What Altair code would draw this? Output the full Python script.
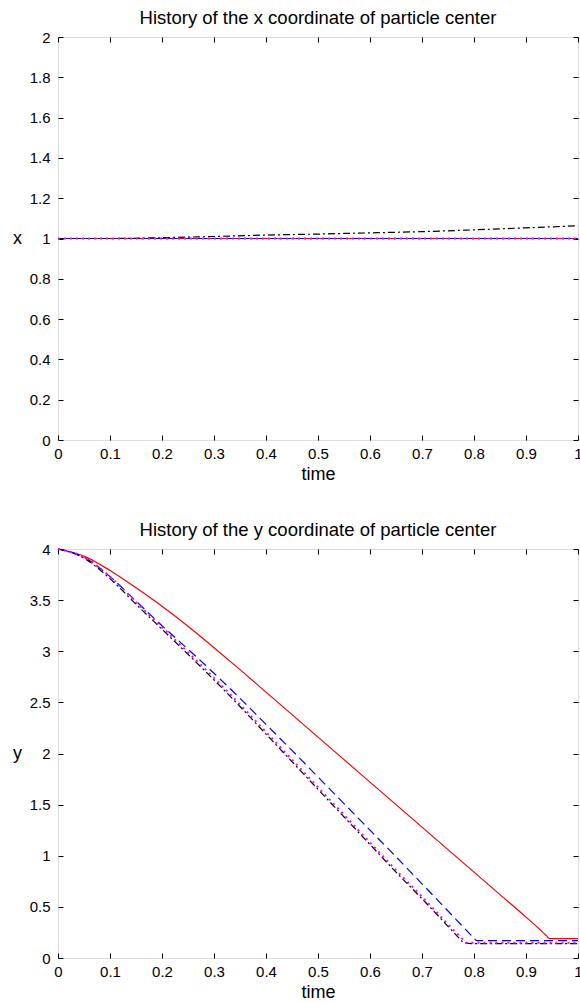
import altair as alt
import pandas as pd

# ---------------- data ----------------
time_x_black = [0.0, 0.1, 0.2, 0.3, 0.4, 0.5, 0.6, 0.7, 0.8, 0.9, 1.0]
x_black = [1.0, 1.0, 1.004, 1.01, 1.017, 1.022, 1.028, 1.034, 1.043, 1.053, 1.063]
time_x_flat = [0.0, 1.0]
x_red = [1.0, 1.0]
x_blue = [1.0, 1.0]
x_magenta = [1.0, 1.0]

time_y_red = [0.0, 0.05, 0.1, 0.15, 0.2, 0.25, 0.3, 0.35, 0.4, 0.45, 0.5, 0.55,
              0.6, 0.65, 0.7, 0.75, 0.8, 0.85, 0.9, 0.94, 0.945, 1.0]
y_red = [4.0, 3.93, 3.79, 3.62, 3.44, 3.245, 3.035, 2.82, 2.60, 2.38, 2.16, 1.94,
         1.72, 1.50, 1.28, 1.06, 0.84, 0.62, 0.40, 0.215, 0.19, 0.19]

time_y_blue = [0.0, 0.05, 0.1, 0.15, 0.2, 0.25, 0.3, 0.35, 0.4, 0.45, 0.5, 0.55,
               0.6, 0.65, 0.7, 0.75, 0.8, 0.805, 0.9, 1.0]
y_blue = [4.0, 3.92, 3.73, 3.49, 3.25, 3.02, 2.785, 2.54, 2.285, 2.03, 1.77, 1.51,
          1.25, 0.99, 0.725, 0.46, 0.195, 0.17, 0.17, 0.17]

time_y_black = [0.0, 0.05, 0.1, 0.15, 0.2, 0.25, 0.3, 0.35, 0.4, 0.45, 0.5, 0.55,
                0.6, 0.65, 0.7, 0.75, 0.775, 0.78, 0.8, 0.9, 1.0]
y_black = [4.0, 3.91, 3.71, 3.46, 3.215, 2.97, 2.72, 2.46, 2.19, 1.92, 1.65, 1.38,
           1.11, 0.84, 0.58, 0.31, 0.175, 0.15, 0.14, 0.14, 0.14]

time_y_magenta = [0.0, 0.05, 0.1, 0.15, 0.2, 0.25, 0.3, 0.35, 0.4, 0.45, 0.5, 0.55,
                  0.6, 0.65, 0.7, 0.75, 0.78, 0.785, 0.8, 0.9, 1.0]
y_magenta = [4.0, 3.92, 3.73, 3.48, 3.235, 2.99, 2.74, 2.48, 2.21, 1.94, 1.67, 1.40,
             1.13, 0.86, 0.60, 0.33, 0.175, 0.15, 0.15, 0.15, 0.15]

x_ticks = [0, 0.1, 0.2, 0.3, 0.4, 0.5, 0.6, 0.7, 0.8, 0.9, 1]
x_panel_ticks = [0, 0.2, 0.4, 0.6, 0.8, 1, 1.2, 1.4, 1.6, 1.8, 2]
y_panel_ticks = [0, 0.5, 1, 1.5, 2, 2.5, 3, 3.5, 4]

FONT = "Liberation Sans"
W = 520
H_TOP = 403
H_BOT = 409
GAP = 109


def line(t, v, color, dash, width):
    df = pd.DataFrame({"time": t, "v": v})
    kw = dict(color=color, strokeWidth=width, interpolate="monotone")
    if dash:
        kw["strokeDash"] = dash
    return alt.Chart(df).mark_line(**kw)


def panel(series, ymax, yticks, ylabel, title, H):
    xs = alt.Scale(domain=[0, 1], nice=False, zero=False)
    ys = alt.Scale(domain=[0, ymax], nice=False, zero=False)
    common_axis = dict(tickSize=5, offset=-5, domain=False, tickColor="black",
                       labelFont=FONT, labelFontSize=15, labelColor="black",
                       titleFont=FONT, titleFontSize=18, titleColor="black",
                       titleFontWeight="normal", grid=False)
    xb = alt.Axis(orient="bottom", values=x_ticks, format="~g", labelPadding=6,
                  labelFlush=False, labelOverlap=False, titlePadding=4,
                  **common_axis)
    yl = alt.Axis(orient="left", values=yticks, format="~g", labelPadding=8,
                  labelOverlap=False, titleAngle=0, titleAlign="center",
                  titleBaseline="middle", titleX=-46, titleY=H / 2,
                  **common_axis)
    xt = alt.Axis(orient="top", values=x_ticks, labels=False, title=None, **common_axis)
    yr = alt.Axis(orient="right", values=yticks, labels=False, title=None, **common_axis)

    layers = []
    for i, (t, v, color, dash, width) in enumerate(series):
        ch = line(t, v, color, dash, width)
        if i == 0:
            ch = ch.encode(
                x=alt.X("time:Q", scale=xs, axis=xb, title="time"),
                y=alt.Y("v:Q", scale=ys, axis=yl, title=ylabel),
            )
        else:
            ch = ch.encode(
                x=alt.X("time:Q", scale=xs, axis=None),
                y=alt.Y("v:Q", scale=ys, axis=None),
            )
        layers.append(ch)
    # invisible layer carrying the top/right (mirror) axes
    t0, v0 = series[0][0], series[0][1]
    ghost = alt.Chart(pd.DataFrame({"time": t0, "v": v0})).mark_point(opacity=0).encode(
        x=alt.X("time:Q", scale=xs, axis=xt),
        y=alt.Y("v:Q", scale=ys, axis=yr),
    )
    layers.append(ghost)
    return alt.layer(*layers).resolve_axis(x="independent", y="independent").properties(
        width=W, height=H,
        title=alt.TitleParams(title, font=FONT, fontSize=18.5, fontWeight="normal",
                              color="black", anchor="middle", baseline="alphabetic",
                              offset=9, dy=21),
    )


top = panel(
    [
        (time_x_flat, x_red, "#ff0000", None, 1.2),
        (time_x_flat, x_blue, "#0000ff", [9, 5], 1.2),
        (time_x_black, x_black, "#000000", [7, 3, 2, 3], 1.2),
        (time_x_flat, x_magenta, "#ff00ff", [2, 4], 2),
    ],
    2, x_panel_ticks, "x", "History of the x coordinate of particle center", H_TOP,
)

bottom = panel(
    [
        (time_y_red, y_red, "#ff0000", None, 1.2),
        (time_y_blue, y_blue, "#0000ff", [9, 5], 1.2),
        (time_y_black, y_black, "#000000", [7, 3, 2, 3], 1.2),
        (time_y_magenta, y_magenta, "#ff00ff", [2, 4], 2),
    ],
    4, y_panel_ticks, "y", "History of the y coordinate of particle center", H_BOT,
)

# The concat layout reports its width (W) but not its height to the view, so the
# padding alone provides the page height.
pad_left, pad_top = 58, 37
chart = alt.vconcat(top, bottom, spacing=GAP, bounds="flush").properties(
    autosize=alt.AutoSizeParams(type="none"),
    padding={"left": pad_left, "top": pad_top,
             "right": 580 - pad_left - W,
             "bottom": 1003 - pad_top},
).configure_view(stroke="black", strokeWidth=1).configure(background="white")

chart.save("out.html", embed_options={"renderer": "svg", "actions": False})
